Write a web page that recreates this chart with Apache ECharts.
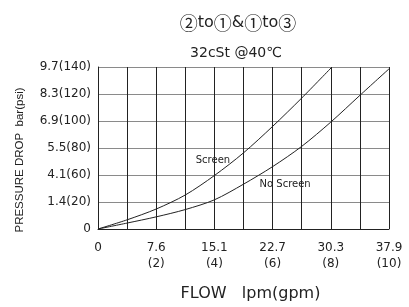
<!DOCTYPE html>
<html><head><meta charset="utf-8">
<script src="https://cdn.jsdelivr.net/npm/echarts@6/dist/echarts.min.js"></script>
<style>html,body{margin:0;padding:0;background:#fff}#c{width:409px;height:307px}</style>
</head><body><div id="c"></div>
<script>
// x in gpm grid steps (0..10), y in grid rows (0..6)
var xTickLabels = ['0', '7.6\n(2)', '15.1\n(4)', '22.7\n(6)', '30.3\n(8)', '37.9\n(10)'];
var yTickLabels = ['0', '1.4(20)', '4.1(60)', '5.5(80)', '6.9(100)', '8.3(120)', '9.7(140)'];
var screenX = [0, 1, 2, 3, 4, 5, 6, 7, 8.04];
var screenY = [0, 0.34, 0.74, 1.26, 1.98, 2.82, 3.8, 4.85, 6];
var noScreenX = [0, 1, 2, 3, 4, 5, 6, 7, 8, 9, 10];
var noScreenY = [0, 0.22, 0.45, 0.72, 1.08, 1.66, 2.31, 3.06, 3.96, 4.95, 5.93];
var seriesNames = ['Screen', 'No Screen'];

var FONT = '"DejaVu Sans", "Liberation Sans", Arial, sans-serif';
var FONT2 = '"Liberation Sans", Arial, sans-serif';
var CJK = '"Noto Sans CJK SC", "DejaVu Sans", sans-serif';
function pairs(xs, ys) { return xs.map(function (x, i) { return [x, ys[i]]; }); }

var chart = echarts.init(document.getElementById('c'), null, {renderer: 'canvas'});
chart.setOption({
  animation: false,
  backgroundColor: '#fff',
  title: [
    {text: '{c|②}{t|to}{c|①}{t|&}{c|①}{t|to}{c|③}', left: 233, top: 9, textAlign: 'center',
     textStyle: {
       fontWeight: 'normal',
       rich: {
         c: {fontFamily: CJK, fontSize: 18, fontWeight: 'normal', color: '#222'},
         t: {fontFamily: FONT, fontSize: 16, fontWeight: 'normal', color: '#222'}
       }
     }},
    {text: '32cSt @40℃', left: 231, top: 41, textAlign: 'center',
     textStyle: {fontFamily: FONT, fontSize: 14, fontWeight: 'normal', color: '#222'}}
  ],
  grid: {left: 98, right: 20, top: 67, bottom: 74, containLabel: false},
  xAxis: {
    type: 'value', min: 0, max: 10, interval: 1,
    name: 'FLOW   lpm(gpm)', nameLocation: 'middle', nameGap: 57,
    nameTextStyle: {fontFamily: FONT, fontSize: 16, color: '#222', padding: [0, 0, 0, 14]},
    axisLine: {show: true, lineStyle: {color: '#222', width: 1}},
    axisTick: {show: false},
    axisLabel: {
      fontFamily: FONT, fontSize: 12, color: '#222', margin: 11, lineHeight: 16,
      verticalAlign: 'top', showMaxLabel: true, showMinLabel: true,
      formatter: function (v) { return (v % 2 === 0) ? xTickLabels[v / 2] : ''; }
    },
    splitLine: {show: true, lineStyle: {color: '#222', width: 1}}
  },
  yAxis: {
    type: 'value', min: 0, max: 6, interval: 1,
    name: 'PRESSURE DROP  bar(psi)', nameLocation: 'middle', nameGap: 72, nameRotate: 90,
    nameTextStyle: {fontFamily: FONT2, fontSize: 11.5, color: '#222', padding: [0, 24, 0, 0]},
    axisLine: {show: true, lineStyle: {color: '#222', width: 1}},
    axisTick: {show: false},
    axisLabel: {
      fontFamily: FONT, fontSize: 12, color: '#222', margin: 7,
      formatter: function (v) { return yTickLabels[v]; }
    },
    splitLine: {show: true, lineStyle: {color: '#8a8a8a', width: 1.2}}
  },
  series: [
    {
      name: seriesNames[0], type: 'line', smooth: 0.3, symbol: 'none',
      lineStyle: {color: '#222', width: 1}, data: pairs(screenX, screenY),
      markPoint: {
        symbol: 'circle', symbolSize: 0,
        data: [{coord: [3.95, 2.53], value: seriesNames[0]}],
        label: {show: true, formatter: '{c}', fontFamily: FONT, fontSize: 10, color: '#222', position: 'inside'}
      }
    },
    {
      name: seriesNames[1], type: 'line', smooth: 0.3, symbol: 'none',
      lineStyle: {color: '#222', width: 1}, data: pairs(noScreenX, noScreenY),
      markPoint: {
        symbol: 'circle', symbolSize: 0,
        data: [{coord: [6.43, 1.65], value: seriesNames[1]}],
        label: {show: true, formatter: '{c}', fontFamily: FONT, fontSize: 10, color: '#222', position: 'inside'}
      }
    }
  ]
});
</script>
</body></html>
